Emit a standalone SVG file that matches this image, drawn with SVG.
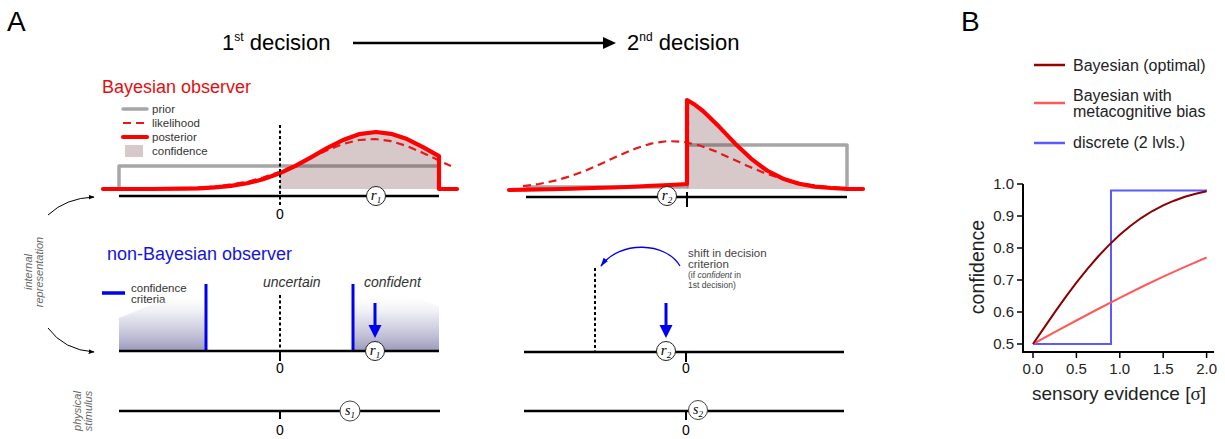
<svg xmlns="http://www.w3.org/2000/svg" width="1225" height="439" viewBox="0 0 1225 439">
<style>
text{font-family:"Liberation Sans",Arial,sans-serif;}
.axis{stroke:#000;stroke-width:2.5;fill:none}
.tk{stroke:#000;stroke-width:2;fill:none}
.prior{stroke:#a6a6a6;stroke-width:3.5;fill:none;stroke-linejoin:round}
.post{stroke:#f00;stroke-width:4.2;fill:none;stroke-linejoin:round;stroke-linecap:round}
.lik{stroke:#e41a1a;stroke-width:2.2;fill:none;stroke-dasharray:8 5}
.conf{fill:#6e3c3c;fill-opacity:0.28}
.zero{stroke:#000;stroke-width:2;stroke-dasharray:3 2.5;fill:none}
.crit{stroke:#0000f0;stroke-width:3;fill:none}
.circ{fill:#fff;stroke:#222;stroke-width:1}
.var{font-family:"Liberation Serif","Times New Roman",serif;font-style:italic;fill:#000}
.lbl{font-size:11.5px;fill:#333}
.side{font-size:11px;font-style:italic;fill:#666}
.zl{font-size:14px;fill:#000}
.tick{font-size:15px;fill:#222}
.leg{font-size:16px;fill:#222}
</style>
<defs>
<marker id="ah" viewBox="0 0 10 10" refX="9" refY="5" markerWidth="6" markerHeight="6" orient="auto"><path d="M0,1 L10,5 L0,9 Z" fill="#000"/></marker>
<marker id="bh" viewBox="0 0 10 10" refX="9" refY="5" markerWidth="7" markerHeight="7" orient="auto"><path d="M0,2 L10,5 L0,8 Z" fill="#0000f0"/></marker>
<linearGradient id="gshade" gradientUnits="userSpaceOnUse" x1="0" y1="292" x2="0" y2="351">
<stop offset="0" stop-color="#ffffff" stop-opacity="0"/>
<stop offset="0.45" stop-color="#d4d4e4" stop-opacity="0.7"/>
<stop offset="1" stop-color="#9a9abb"/>
</linearGradient>
</defs>

<g id="label-A"><text x="7" y="31" font-size="28">A</text></g>
<g id="label-B"><text x="961" y="31" font-size="28">B</text></g>

<g id="decision1"><text x="222" y="50" font-size="22">1<tspan font-size="12" dy="-9">st</tspan><tspan dy="9"> decision</tspan></text></g>
<g id="decision2"><text x="627" y="50" font-size="22">2<tspan font-size="12" dy="-9">nd</tspan><tspan dy="9"> decision</tspan></text></g>

<g id="connectors">
<line x1="353" y1="43" x2="604" y2="43" stroke="#000" stroke-width="2.5"/>
<polygon points="603,37 616,43 603,49" fill="#000"/>
<path d="M48,215 Q66,198 94,197" stroke="#000" stroke-width="1" fill="none" marker-end="url(#ah)"/>
<path d="M48,328 Q64,350 94,352" stroke="#000" stroke-width="1" fill="none" marker-end="url(#ah)"/>
<path d="M680,266 C666,242 620,240 601,266" stroke="#0000f0" stroke-width="1.3" fill="none" marker-end="url(#bh)"/>
</g>

<g id="side-labels">
<text class="side" text-anchor="middle" transform="translate(32,272) rotate(-90)">internal</text>
<text class="side" text-anchor="middle" transform="translate(43,272) rotate(-90)">representation</text>
<text class="side" text-anchor="middle" transform="translate(81,411) rotate(-90)">physical</text>
<text class="side" text-anchor="middle" transform="translate(92,411) rotate(-90)">stimulus</text>
</g>

<g id="bayesian-title"><text x="102" y="93" font-size="18" fill="#e01010">Bayesian observer</text></g>

<g id="bayes-legend">
<line x1="123" y1="109" x2="147" y2="109" stroke="#a6a6a6" stroke-width="3.5" stroke-linecap="round"/>
<text class="lbl" x="152" y="113">prior</text>
<line x1="123" y1="123" x2="147" y2="123" class="lik"/>
<text class="lbl" x="152" y="127">likelihood</text>
<line x1="123" y1="137" x2="147" y2="137" class="post"/>
<text class="lbl" x="152" y="141">posterior</text>
<rect x="125" y="145" width="18" height="12" class="conf"/>
<text class="lbl" x="152" y="155">confidence</text>
</g>

<g id="bayes-1">
<path class="prior" d="M119,189 L119,166 L439,166 L439,189"/>
<path class="conf" d="M280,189 L280,173.3 L295,166.1 L311,157.3 L327,148.2 L343,140 L359,134.2 L376,132 L391,133.8 L407,139.1 L423,147.1 L439,156.1 L439,189 Z"/>
<path class="lik" d="M119,189 L151,188.9 L183,188.4 L215,186.7 L247,181.9 L263,177.5 L279,172 L295,165.2 L311,157.6 L327,150.2 L343,144 L359,140 L375,139 L391,141.2 L407,146.1 L423,152.9 L439,160.5 L451,166.1"/>
<path class="post" d="M103,189 L151,189 L183,188.7 L199,188.3 L215,187.4 L231,185.9 L247,183.3 L263,179.3 L279,173.6 L295,166.1 L311,157.3 L327,148.2 L343,140 L359,134.2 L376,132 L391,133.8 L407,139.1 L423,147.1 L439,156.1 L439,189 L457,189"/>
<line class="axis" x1="119" y1="196" x2="439" y2="196"/>
<path class="zero" d="M280,125 L280,207"/>
<text class="zl" x="280" y="219" text-anchor="middle">0</text>
<circle class="circ" cx="376" cy="196" r="9.5"/>
<text class="var" x="376" y="200" text-anchor="middle" font-size="15">r<tspan font-size="9" dy="3">1</tspan></text>
</g>

<g id="bayes-2">
<path class="prior" d="M526,187 L687,187 L687,145 L847,145 L847,189"/>
<path class="conf" d="M687,189 L687,100 L695,104.8 L703,111 L719,126.6 L735,143.4 L751,158.6 L767,170.5 L783,178.7 L799,183.8 L815,186.6 L831,188 L847,188.6 L847,189 Z"/>
<path class="lik" d="M523,186.2 L539,184 L555,180.7 L571,176 L587,170 L603,162.9 L619,155.5 L635,148.7 L651,143.6 L667,141.1 L683,141.7 L699,145.3 L715,151.1 L731,158.3 L747,165.7 L763,172.4 L779,177.9 L795,182.1 L811,185 L827,186.8 L843,187.9"/>
<path class="post" d="M509,190 L526,189.6 Q620,188 687,184 L687,100 L695,104.8 L703,111 L719,126.6 L735,143.4 L751,158.6 L767,170.5 L783,178.7 L799,183.8 L815,186.6 L831,188 L847,188.8 L863,189"/>
<line class="axis" x1="526" y1="197" x2="847" y2="197"/>
<line class="tk" x1="687" y1="192" x2="687" y2="207"/>
<circle class="circ" cx="667" cy="196" r="9.5"/>
<text class="var" x="667" y="200" text-anchor="middle" font-size="15">r<tspan font-size="9" dy="3">2</tspan></text>
</g>

<g id="nonbayesian-title"><text x="107" y="260" font-size="18" fill="#1515d8">non-Bayesian observer</text></g>

<g id="criteria-legend">
<line x1="102" y1="293" x2="125" y2="293" stroke="#0000f0" stroke-width="3.5"/>
<text class="lbl" x="131" y="292">confidence</text>
<text class="lbl" x="131" y="303">criteria</text>
</g>

<g id="nonbayes-1">
<path d="M119,351 L119,318 Q165,298 206,288 L206,351 Z" fill="url(#gshade)"/>
<path d="M353,351 L353,288 Q400,290 439,306 L439,351 Z" fill="url(#gshade)"/>
<line class="crit" x1="206" y1="284" x2="206" y2="351"/>
<line class="crit" x1="353" y1="284" x2="353" y2="351"/>
<text x="263" y="287" font-size="14" font-style="italic" fill="#333">uncertain</text>
<text x="364" y="287" font-size="14" font-style="italic" fill="#333">confident</text>
<line class="axis" x1="119" y1="351" x2="439" y2="351"/>
<path class="zero" d="M280,295 L280,352"/>
<line class="tk" x1="280" y1="351" x2="280" y2="361"/>
<text class="zl" x="280" y="373" text-anchor="middle">0</text>
<line x1="375" y1="303" x2="375" y2="326" stroke="#0000f0" stroke-width="3"/>
<polygon points="368.5,325 381.5,325 375,338" fill="#0000f0"/>
<circle class="circ" cx="375" cy="351" r="9.5"/>
<text class="var" x="375" y="355" text-anchor="middle" font-size="15">r<tspan font-size="9" dy="3">1</tspan></text>
</g>

<g id="nonbayes-2">
<path class="zero" d="M595,268 L595,352"/>
<text x="688" y="257" font-size="11.5" fill="#444">shift in decision</text>
<text x="688" y="268" font-size="11.5" fill="#444">criterion</text>
<text x="688" y="278" font-size="8.5" fill="#444">(if <tspan font-style="italic">confident</tspan> in</text>
<text x="688" y="288" font-size="8.5" fill="#444">1st decision)</text>
<line class="axis" x1="524" y1="352" x2="844" y2="352"/>
<line class="tk" x1="686" y1="352" x2="686" y2="362"/>
<text class="zl" x="686" y="373" text-anchor="middle">0</text>
<line x1="666" y1="303" x2="666" y2="326" stroke="#0000f0" stroke-width="3"/>
<polygon points="659.5,325 672.5,325 666,338" fill="#0000f0"/>
<circle class="circ" cx="666" cy="351" r="9.5"/>
<text class="var" x="666" y="355" text-anchor="middle" font-size="15">r<tspan font-size="9" dy="3">2</tspan></text>
</g>

<g id="stimulus-1">
<line class="axis" x1="119" y1="411" x2="440" y2="411"/>
<line class="tk" x1="280" y1="411" x2="280" y2="419"/>
<text class="zl" x="280" y="435" text-anchor="middle">0</text>
<circle cx="350" cy="411" r="10" fill="#fff" stroke="#444" stroke-width="1"/>
<text class="var" x="350" y="415" text-anchor="middle" font-size="14">s<tspan font-size="9" dy="3">1</tspan></text>
</g>

<g id="stimulus-2">
<line class="axis" x1="524" y1="411" x2="844" y2="411"/>
<line class="tk" x1="686" y1="411" x2="686" y2="420"/>
<text class="zl" x="686" y="435" text-anchor="middle">0</text>
<circle cx="698" cy="410" r="9.5" fill="#fff" stroke="#444" stroke-width="1"/>
<text class="var" x="698" y="414" text-anchor="middle" font-size="14">s<tspan font-size="9" dy="3">2</tspan></text>
</g>

<g id="legend-B">
<line x1="1034" y1="65" x2="1065" y2="65" stroke="#990000" stroke-width="2.5"/>
<text class="leg" x="1073" y="71">Bayesian (optimal)</text>
<line x1="1034" y1="103" x2="1065" y2="103" stroke="#ff5a5a" stroke-width="2.5"/>
<text class="leg" x="1073" y="101">Bayesian with</text>
<text class="leg" x="1073" y="117">metacognitive bias</text>
<line x1="1034" y1="143" x2="1065" y2="143" stroke="#5a5aff" stroke-width="2.5"/>
<text class="leg" x="1073" y="148">discrete (2 lvls.)</text>
</g>

<g id="plot-B">
<path d="M1023,184 L1023,352 L1214,352" stroke="#000" stroke-width="2" fill="none"/>
<g stroke="#000" stroke-width="1.5">
<line x1="1017" y1="184" x2="1023" y2="184"/>
<line x1="1017" y1="216" x2="1023" y2="216"/>
<line x1="1017" y1="248" x2="1023" y2="248"/>
<line x1="1017" y1="280" x2="1023" y2="280"/>
<line x1="1017" y1="312" x2="1023" y2="312"/>
<line x1="1017" y1="344" x2="1023" y2="344"/>
<line x1="1033" y1="352" x2="1033" y2="358"/>
<line x1="1076.4" y1="352" x2="1076.4" y2="358"/>
<line x1="1119.8" y1="352" x2="1119.8" y2="358"/>
<line x1="1163.2" y1="352" x2="1163.2" y2="358"/>
<line x1="1206.6" y1="352" x2="1206.6" y2="358"/>
</g>
<g class="tick" text-anchor="end">
<text x="1014" y="189">1.0</text>
<text x="1014" y="221">0.9</text>
<text x="1014" y="253">0.8</text>
<text x="1014" y="285">0.7</text>
<text x="1014" y="317">0.6</text>
<text x="1014" y="349">0.5</text>
</g>
<g class="tick" text-anchor="middle">
<text x="1033" y="374">0.0</text>
<text x="1076.4" y="374">0.5</text>
<text x="1119.8" y="374">1.0</text>
<text x="1163.2" y="374">1.5</text>
<text x="1206.6" y="374">2.0</text>
</g>
<text x="0" y="0" font-size="19.5" fill="#222" text-anchor="middle" transform="translate(984,267) rotate(-90)">confidence</text>
<text x="1119" y="400" font-size="19" fill="#222" text-anchor="middle">sensory evidence [<tspan font-family="'Liberation Serif','Times New Roman',serif">σ</tspan>]</text>
<path d="M1033,344 L1111,344 L1111,190.4 L1207,190.4" stroke="#5a5aff" stroke-width="2" fill="none"/>
<path d="M1033,344 L1054.7,332.2 L1076.4,320.5 L1098.1,309 L1119.8,297.8 L1141.5,287 L1163.2,276.6 L1184.9,266.8 L1206.6,257.5" stroke="#ff5a5a" stroke-width="2" fill="none"/>
<path d="M1033,344 L1043.85,328.1 L1054.7,312.4 L1065.55,297.2 L1076.4,282.7 L1087.25,269.1 L1098.1,256.5 L1108.95,245.1 L1119.8,234.8 L1130.65,225.7 L1141.5,217.8 L1152.35,211 L1163.2,205.4 L1174.05,200.7 L1184.9,196.8 L1195.75,193.7 L1206.6,191.3" stroke="#8b0000" stroke-width="2" fill="none"/>
</g>
</svg>
